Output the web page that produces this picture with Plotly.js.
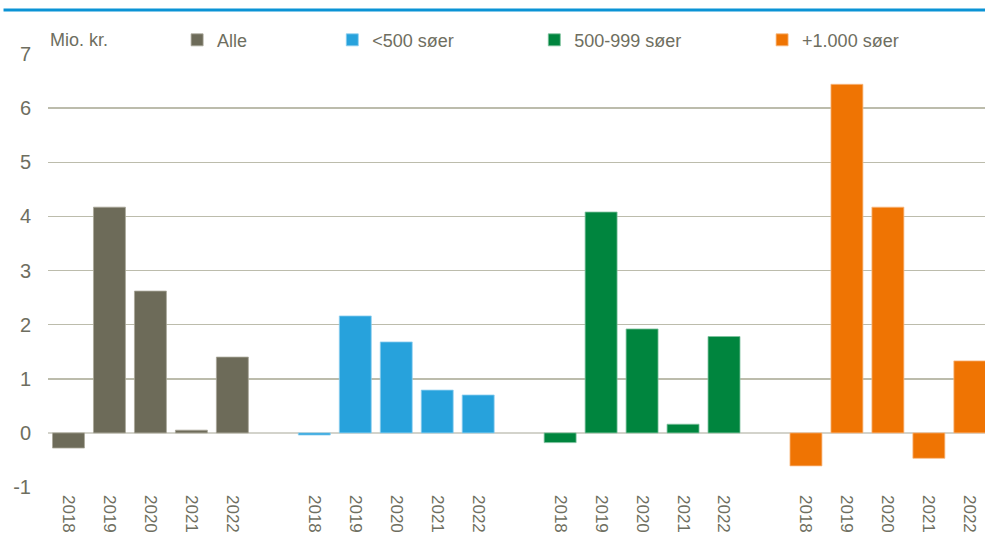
<!DOCTYPE html>
<html>
<head>
<meta charset="utf-8">
<script src="https://cdn.plot.ly/plotly-3.0.1.min.js"></script>
<style>html,body{margin:0;padding:0;background:#fff;}#chart{width:985px;height:542px;}</style>
</head>
<body>
<div id="chart"></div>
<script>
const groups = ['Alle', '<500 søer', '500-999 søer', '+1.000 søer'];
const years = ['2018', '2019', '2020', '2021', '2022'];
const alle = [-0.28, 4.17, 2.62, 0.05, 1.40];
const under500 = [-0.04, 2.16, 1.68, 0.79, 0.70];
const mid500_999 = [-0.18, 4.08, 1.92, 0.16, 1.78];
const over1000 = [-0.61, 6.44, 4.17, -0.47, 1.33];
const yTicks = [-1, 0, 1, 2, 3, 4, 5, 6, 7];
const yTickText = ['-1', '0', '1', '2', '3', '4', '5', '6', '7'];
const unitLabel = 'Mio. kr.';

const series = [alle, under500, mid500_999, over1000];
const colors = ['#6d6b59', '#27a2dc', '#00853e', '#ef7403'];
const edge = ['#a9a799', '#8fcff0', '#7fc29e', '#f7b981'];
const legendIds = ['legend', 'legend2', 'legend3', 'legend4'];
const legendX = [0.1378, 0.3034, 0.5190, 0.7621];

const FONT = 'Liberation Sans, Arial, sans-serif';
const TXT = '#6e6e60';

const traces = [];
const tickvals = [], ticktext = [];
series.forEach((vals, g) => {
  const xs = years.map((y, i) => g * 6 + i);
  xs.forEach((x, i) => { tickvals.push(x); ticktext.push(years[i]); });
  traces.push({
    type: 'bar', name: groups[g], x: xs, y: vals, width: 0.78,
    marker: {color: colors[g], line: {color: edge[g], width: 0.8}},
    legend: legendIds[g], hoverinfo: 'x+y'
  });
});

const legendCommon = (x) => ({
  x: x, y: 1.032, xref: 'paper', yref: 'paper', xanchor: 'left', yanchor: 'middle',
  orientation: 'h', bgcolor: 'rgba(0,0,0,0)', font: {family: FONT, size: 18, color: TXT},
  itemwidth: 30, tracegroupgap: 0
});

const layout = {
  width: 985, height: 542,
  margin: {l: 47.5, r: 0, t: 54, b: 55},
  paper_bgcolor: '#ffffff', plot_bgcolor: '#ffffff',
  font: {family: FONT, size: 18, color: TXT},
  bargap: 0.2,
  xaxis: {
    range: [-0.5, 22.37], tickvals: tickvals, ticktext: ticktext, tickangle: 90,
    showgrid: false, zeroline: false, showline: false, ticks: '', ticklabelstandoff: 7,
    tickfont: {family: FONT, size: 17, color: TXT}, fixedrange: true
  },
  yaxis: {
    range: [-1, 7], tickvals: yTicks, ticktext: yTickText, showgrid: true, gridcolor: '#bcbcac', gridwidth: 1.5,
    zeroline: true, zerolinecolor: '#d3d3cb', zerolinewidth: 2,
    ticks: '', ticklabelstandoff: 16, tickfont: {family: FONT, size: 20, color: TXT},
    fixedrange: true
  },
  showlegend: true,
  legend: legendCommon(legendX[0]),
  legend2: legendCommon(legendX[1]),
  legend3: legendCommon(legendX[2]),
  legend4: legendCommon(legendX[3]),
  annotations: [{
    text: unitLabel, xref: 'paper', yref: 'paper', x: 0.0, y: 1.032,
    xanchor: 'left', yanchor: 'middle', showarrow: false,
    font: {family: FONT, size: 18, color: TXT}
  }],
  shapes: [{
    type: 'line', xref: 'paper', yref: 'paper',
    x0: (3 - 47.5) / 937.5, x1: 1, y0: 1 + 44 / 433, y1: 1 + 44 / 433,
    line: {color: '#0b93d5', width: 3}
  }]
};

Plotly.newPlot('chart', traces, layout, {displayModeBar: false, staticPlot: true});
</script>
</body>
</html>
